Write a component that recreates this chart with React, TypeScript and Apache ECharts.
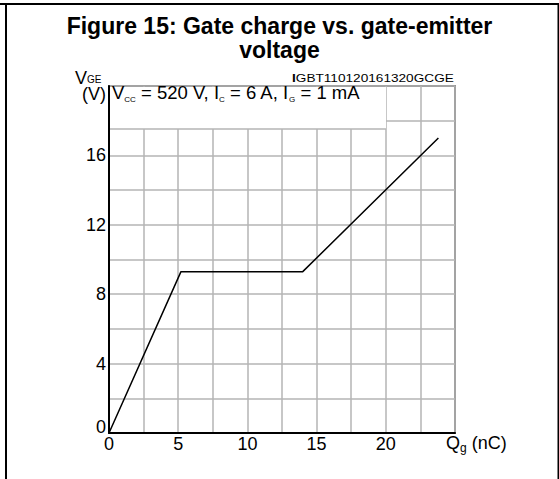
import React, { useEffect, useRef } from "react";
import * as echarts from "echarts";

// Data (Qg in nC, VGE in V)
const qg = [0, 5.2, 14.0, 23.8];
const vge = [0, 9.3, 9.3, 17.0];

const xTickLabels = [0, 5, 10, 15, 20];
const yTickLabels = [0, 4, 8, 12, 16];

const FONT = "'Liberation Sans', Arial, Helvetica, sans-serif";

export default function App() {
  const ref = useRef<HTMLDivElement>(null);

  useEffect(() => {
    if (!ref.current) return;
    const chart = echarts.init(ref.current, undefined, { renderer: "svg" });

    const gridLeft = 109;
    const gridTop = 86;
    const gridW = 346;
    const gridH = 347;

    const option: any = {
      animation: false,
      backgroundColor: "#ffffff",
      title: {
        text: "Figure 15: Gate charge vs. gate-emitter\nvoltage",
        left: "center",
        top: 9,
        textStyle: {
          fontFamily: FONT,
          fontWeight: "bold",
          fontSize: 23,
          lineHeight: 24,
          color: "#000",
        },
      },
      grid: {
        left: gridLeft,
        top: gridTop,
        width: gridW,
        height: gridH,
        show: true,
        borderColor: "#444",
        borderWidth: 1.5,
        backgroundColor: "transparent",
      },
      xAxis: {
        type: "value",
        min: 0,
        max: 25,
        interval: 2.5,
        axisLine: { show: true, lineStyle: { color: "#000", width: 2 } },
        axisTick: { show: false },
        splitLine: { show: true, lineStyle: { color: "#b4b4b4", width: 1.5 } },
        axisLabel: {
          margin: 2,
          fontFamily: FONT,
          fontSize: 18,
          color: "#000",
          formatter: (v: number) =>
            xTickLabels.indexOf(v) >= 0 ? String(v) : "",
        },
      },
      yAxis: {
        type: "value",
        min: 0,
        max: 20,
        interval: 2,
        axisLine: { show: true, lineStyle: { color: "#000", width: 2 } },
        axisTick: { show: false },
        splitLine: { show: true, lineStyle: { color: "#b4b4b4", width: 1.5 } },
        axisLabel: {
          margin: 3,
          fontFamily: FONT,
          fontSize: 18,
          color: "#000",
          formatter: (v: number) => {
            if (yTickLabels.indexOf(v) < 0) return "";
            return v === 0 ? "{z|0}" : String(v);
          },
          rich: {
            z: {
              fontFamily: FONT,
              fontSize: 18,
              color: "#000",
              padding: [0, 0, 12, 0],
            },
          },
        },
      },
      series: [
        {
          type: "line",
          data: qg.map((q, i) => [q, vge[i]]),
          symbol: "none",
          lineStyle: { color: "#000", width: 1.5 },
          z: 5,
        },
      ],
      graphic: [
        // outer frame
        { type: "rect", shape: { x: 0, y: 3, width: 559, height: 2 }, style: { fill: "#000" }, z: 10 },
        { type: "rect", shape: { x: 5, y: 3, width: 2, height: 476 }, style: { fill: "#000" }, z: 10 },
        { type: "rect", shape: { x: 557.5, y: 3, width: 1.5, height: 476 }, style: { fill: "#000" }, z: 10 },
        // annotation box
        {
          type: "rect",
          shape: { x: 110, y: 87, width: 276, height: 42 },
          style: { fill: "#fff" },
          z: 1,
        },
        {
          type: "line",
          shape: { x1: 110, y1: 129, x2: 386, y2: 129 },
          style: { stroke: "#b4b4b4", lineWidth: 1.5 },
          z: 1,
        },
        {
          type: "text",
          x: 112,
          y: 81,
          z: 2,
          style: {
            text: "{n|V}{s|CC}{n| = 520 V, I}{s|C}{n| = 6 A, I}{s|G}{n| = 1 mA}",
            fill: "#000",
            verticalAlign: "top",
            rich: {
              n: { fontFamily: FONT, fontSize: 18.5, lineHeight: 22, color: "#000" },
              s: { fontFamily: FONT, fontSize: 8, lineHeight: 18, verticalAlign: "bottom", color: "#000" },
            },
          },
        },
        // top-right code
        {
          type: "text",
          x: 292,
          y: 73,
          scaleX: 1.24,
          z: 2,
          style: {
            text: "{b|I}GBT110120161320GCGE",
            font: `11px ${FONT}`,
            fill: "#000",
            verticalAlign: "top",
            rich: {
              b: { fontFamily: FONT, fontSize: 11, fontWeight: "bold", color: "#000" },
            },
          },
        },
        // y axis name
        {
          type: "text",
          x: 75,
          y: 67,
          z: 2,
          style: {
            text: "{n|V}{s|GE}",
            fill: "#000",
            verticalAlign: "top",
            rich: {
              n: { fontFamily: FONT, fontSize: 18, lineHeight: 22, color: "#000" },
              s: { fontFamily: FONT, fontSize: 10, lineHeight: 10, verticalAlign: "middle", padding: [3, 0, 0, 0], color: "#000" },
            },
          },
        },
        {
          type: "text",
          x: 106,
          y: 94,
          z: 2,
          style: {
            text: "(V)",
            font: `18px ${FONT}`,
            fill: "#000",
            align: "right",
            verticalAlign: "middle",
          },
        },
        // x axis name
        {
          type: "text",
          x: 446,
          y: 432,
          z: 2,
          style: {
            text: "{n|Q}{s|g}{n| (nC)}",
            fill: "#000",
            verticalAlign: "top",
            rich: {
              n: { fontFamily: FONT, fontSize: 18, lineHeight: 22, color: "#000" },
              s: { fontFamily: FONT, fontSize: 12, lineHeight: 10, verticalAlign: "bottom", color: "#000" },
            },
          },
        },
      ],
    };

    chart.setOption(option);
    return () => chart.dispose();
  }, []);

  return (
    <div
      ref={ref}
      style={{ position: "fixed", left: 0, top: 0, width: 559, height: 479, background: "#fff" }}
    />
  );
}
